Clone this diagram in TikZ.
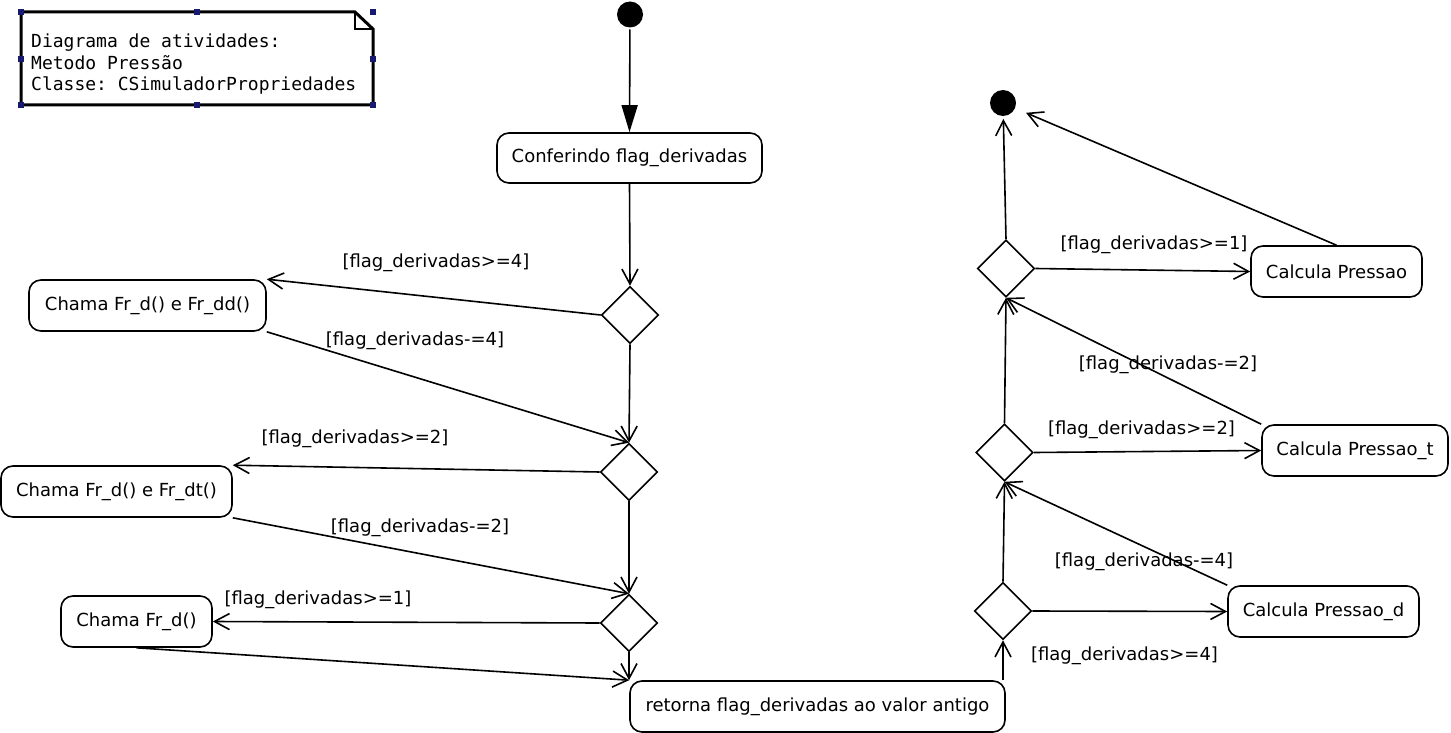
\documentclass[tikz,border=0pt]{standalone}
\usepackage{fontspec}
\setmainfont{DejaVu Sans}
\setmonofont{DejaVu Sans Mono}
\usetikzlibrary{shapes.geometric,arrows.meta}
\definecolor{handlecol}{RGB}{25,25,112}
\begin{document}
\begin{tikzpicture}[x=1pt,y=-1pt,
  every node/.style={font=\fontsize{18}{21.5}\selectfont},
  act/.style={draw, line width=1.6pt, rounded corners=12pt, inner sep=0pt},
  dec/.style={draw, diamond, line width=1.6pt, minimum width=57pt, minimum height=57pt, inner sep=0pt},
  umldot/.style={circle, fill, minimum size=26pt, inner sep=0pt, outer sep=2pt},
  umlflow/.style={line width=1.6pt, -{Straight Barb[length=15pt,width=16pt,line width=1.6pt]}},
  initflow/.style={line width=1.6pt, -{Triangle[length=27pt,width=16pt]}},
  guardlbl/.style={inner sep=0pt}
]
\fill[white] (0,0) rectangle (1451,733);
\useasboundingbox (0,0) rectangle (1451,733);

% note
\draw[line width=3pt, line join=miter] (21,12) -- (355,12) -- (373,29) -- (373,105) -- (21,105) -- cycle;
\draw[line width=1.6pt] (355,12) -- (355,29) -- (373,29);
\foreach \hx/\hy in {21/12,197/12,373/12,21/59,373/59,21/105,197/105,373/105}
  \fill[handlecol] (\hx-3,\hy-3) rectangle (\hx+3,\hy+3);
\node[anchor=west, align=left, inner sep=0pt, font=\ttfamily\fontsize{18}{21.5}\selectfont] (notetext) at (31,64.5)
  {Diagrama de atividades:\\Metodo Pressão\\Classe: CSimuladorPropriedades};

% start / end
\node[umldot] (init) at (630,14.5) {};
\node[umldot, outer sep=3pt] (final) at (1003,103) {};

% activities
\node[act, minimum width=265pt, minimum height=50pt] (b0) at (629.5,158) {Conferindo flag\_derivadas};
\node[act, minimum width=237pt, minimum height=51pt] (b1) at (147.5,305.5) {Chama Fr\_d() e Fr\_dd()};
\node[act, minimum width=231pt, minimum height=51pt] (b2) at (116.5,491.5) {Chama Fr\_d() e Fr\_dt()};
\node[act, minimum width=151pt, minimum height=51pt] (b3) at (136.5,621.5) {Chama Fr\_d()};
\node[act, minimum width=375pt, minimum height=51pt] (b4) at (817.5,706.5) {retorna flag\_derivadas ao valor antigo};
\node[act, minimum width=171pt, minimum height=51pt] (bP) at (1336.5,271.5) {Calcula Pressao};
\node[act, minimum width=186pt, minimum height=51pt] (bPt) at (1355,450.5) {Calcula Pressao\_t};
\node[act, minimum width=191pt, minimum height=51pt] (bPd) at (1323.5,611.5) {Calcula Pressao\_d};

% decisions
\node[dec] (d1) at (630,315) {};
\node[dec] (d2) at (629,472) {};
\node[dec] (d3) at (629,623) {};
\node[dec] (d4) at (1003,611) {};
\node[dec] (d5) at (1004.5,452.5) {};
\node[dec] (d6) at (1006,268.5) {};

% connectors
\draw[initflow] (init) -- (b0.north);
\draw[umlflow] (b0.south) -- (d1.north);
\draw[umlflow] (d1.west) -- (b1.north east);
\draw[umlflow] (b1.south east) -- (d2.north);
\draw[umlflow] (d1.south) -- (d2.north);
\draw[umlflow] (d2.west) -- (b2.north east);
\draw[umlflow] (b2.south east) -- (d3.north);
\draw[umlflow] (d2.south) -- (d3.north);
\draw[umlflow] (d3.west) -- (b3.east);
\draw[umlflow] (b3.south) -- (b4.north west);
\draw[umlflow] (d3.south) -- (d3.south |- b4.north);
\draw[umlflow] (d4.south |- b4.north) -- (d4.south);
\draw[umlflow] (d4.east) -- (bPd.west);
\draw[umlflow] (bPd.north west) -- (d5.south);
\draw[umlflow] (d4.north) -- (d5.south);
\draw[umlflow] (d5.east) -- (bPt.west);
\draw[umlflow] (bPt.north west) -- (d6.south);
\draw[umlflow] (d5.north) -- (d6.south);
\draw[umlflow] (d6.east) -- (bP.west);
\draw[umlflow] (d6.north) -- (final);
\draw[umlflow, shorten >=9pt] (bP.north) -- (final);

% guards
\node[guardlbl] (g1) at (436,263) {[flag\_derivadas>=4]};
\node[guardlbl] (g2) at (415,341) {[flag\_derivadas-=4]};
\node[guardlbl] (g3) at (355,439) {[flag\_derivadas>=2]};
\node[guardlbl] (g4) at (420,528) {[flag\_derivadas-=2]};
\node[guardlbl] (g5) at (318,600) {[flag\_derivadas>=1]};
\node[guardlbl] (g6) at (1154,245) {[flag\_derivadas>=1]};
\node[guardlbl] (g7) at (1168,365) {[flag\_derivadas-=2]};
\node[guardlbl] (g8) at (1141.5,430) {[flag\_derivadas>=2]};
\node[guardlbl] (g9) at (1144,562) {[flag\_derivadas-=4]};
\node[guardlbl] (g10) at (1124.5,656) {[flag\_derivadas>=4]};
\end{tikzpicture}
\end{document}
